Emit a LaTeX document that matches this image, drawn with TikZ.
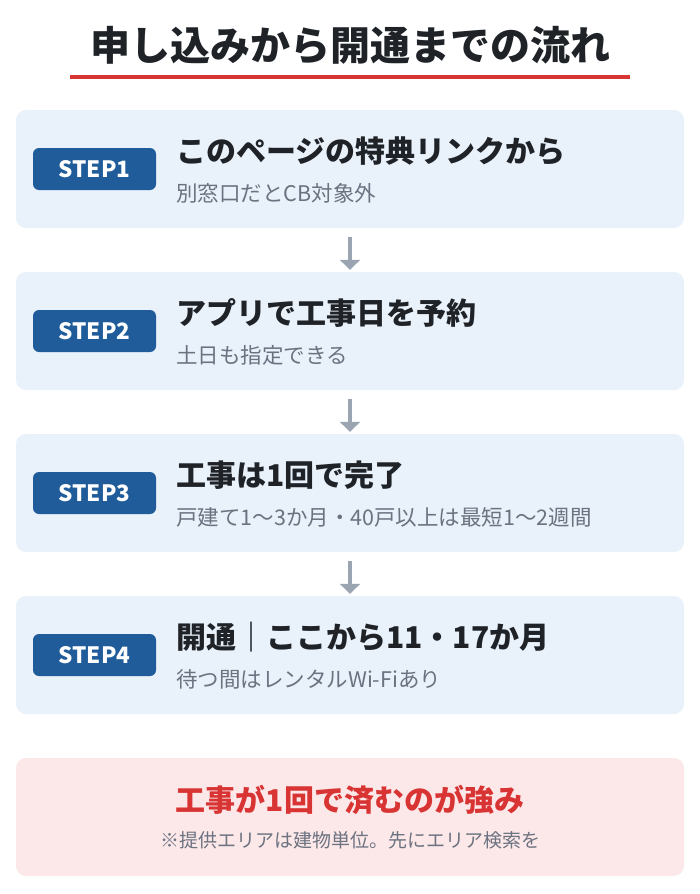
\documentclass[tikz,border=0pt]{standalone}
\usepackage{fontspec}
\setmainfont{Noto Sans CJK JP}
\usetikzlibrary{arrows.meta}
\definecolor{boxbg}{HTML}{E9F1FB}
\definecolor{badge}{HTML}{1F5C99}
\definecolor{arr}{HTML}{9AA5B1}
\definecolor{sub}{HTML}{6B7280}
\definecolor{pinkbg}{HTML}{FDE8E9}
\definecolor{redt}{HTML}{D93434}
\definecolor{dark}{HTML}{1F2328}
\tikzset{
 stepbox/.style={fill=boxbg,rounded corners=10pt,draw=none,minimum width=668pt,minimum height=118pt,inner sep=0pt},
 badgebox/.style={fill=badge,rounded corners=6pt,text=white,font=\bfseries\fontsize{22.5}{22.5}\selectfont,minimum width=123pt,minimum height=42pt,inner sep=0pt},
 ttl/.style={anchor=west,text=dark,font=\bfseries\fontsize{30}{30}\selectfont,inner sep=0pt},
 subt/.style={anchor=west,text=sub,font=\fontsize{21.5}{21.5}\selectfont,inner sep=0pt},
 arrowline/.style={draw=arr,line width=3.5pt,-{Triangle[length=10pt,width=20pt]}}
}
\begin{document}
\begin{tikzpicture}[x=1pt,y=-1pt]
\useasboundingbox (0,0) rectangle (700,894);
\fill[white] (0,0) rectangle (700,894);
\node[text=dark,font=\bfseries\fontsize{40}{40}\selectfont,inner sep=0pt] (title) at (350,45) {申し込みから開通までの流れ};
\draw[redt,line width=4pt] (70,77) -- (630,77);
\foreach \i/\y/\t/\s in {1/169/このページの特典リンクから/別窓口だとCB対象外,2/331/アプリで工事日を予約/土日も指定できる,3/493/工事は1回で完了/戸建て1〜3か月・40戸以上は最短1〜2週間,4/655/開通｜ここから11・17か月/待つ間はレンタルWi-Fiあり}{
 \node[stepbox] (s\i) at (350,\y) {};
 \node[badgebox] (b\i) at (94.5,\y) {STEP\i};
 \node[ttl] (t\i) at (176,\y-18) {\t};
 \node[subt] (u\i) at (176,\y+24) {\s};
}
\foreach \a/\b in {1/2,2/3,3/4}{
 \coordinate (p\a) at ([yshift=-9pt]s\a.south);
 \coordinate (q\a) at ([yshift=2pt]s\b.north);
 \draw[arrowline] (p\a) -- (q\a);
}
\node[fill=pinkbg,rounded corners=10pt,minimum width=668pt,minimum height=118pt,inner sep=0pt] (bot) at (350,817) {};
\node[text=redt,font=\bfseries\fontsize{30}{30}\selectfont,inner sep=0pt] (bt) at (350,800) {工事が1回で済むのが強み};
\node[text=sub,font=\fontsize{19}{19}\selectfont,inner sep=0pt] (bs) at (350,840) {※提供エリアは建物単位。先にエリア検索を};
\end{tikzpicture}
\end{document}
